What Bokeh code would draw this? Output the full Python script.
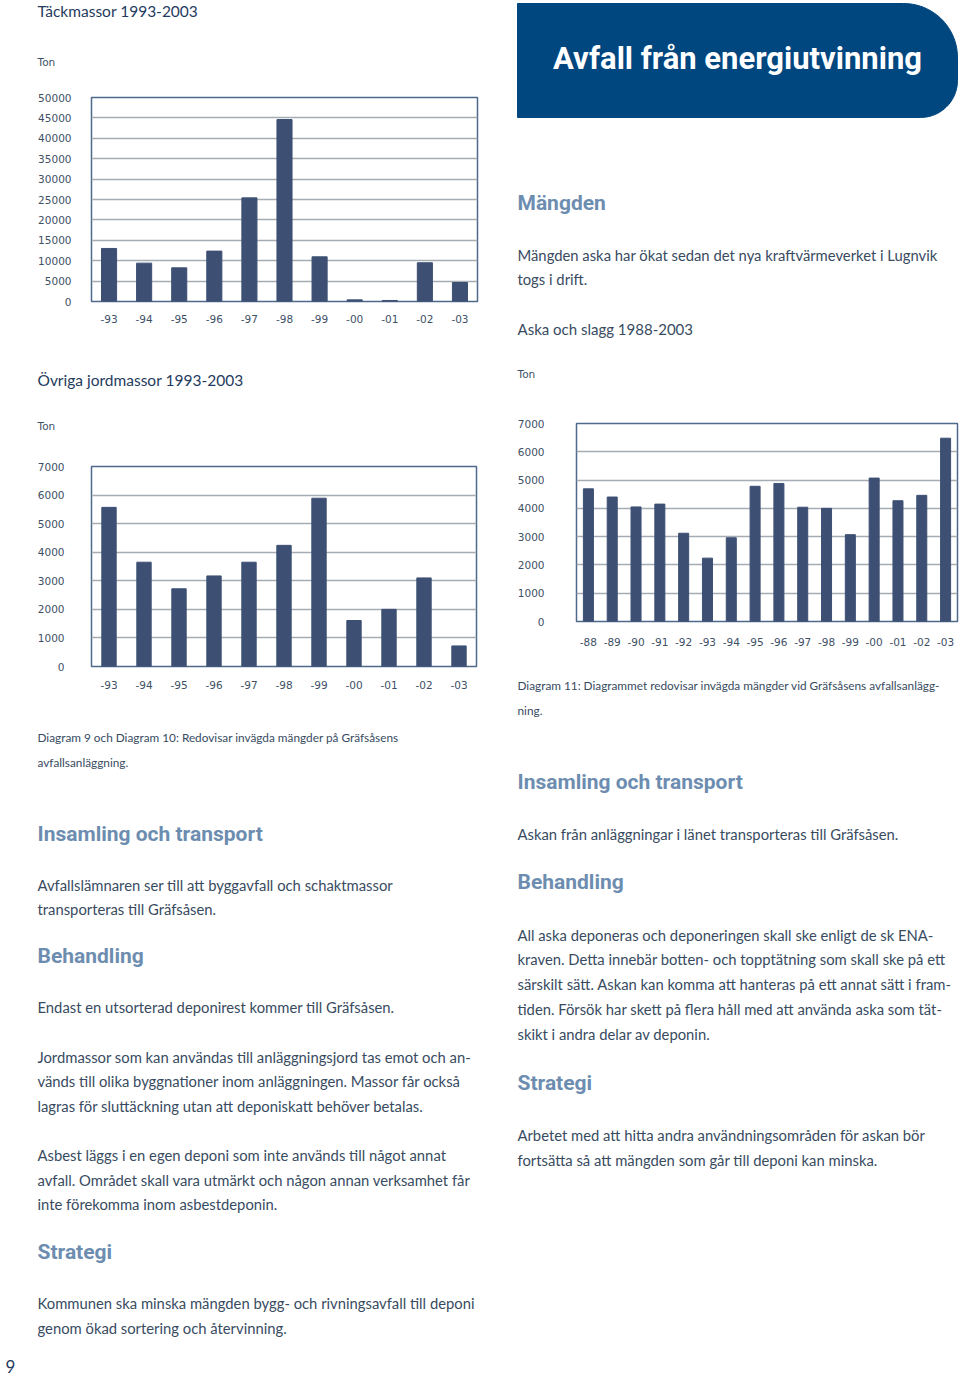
import numpy as np
from bokeh.plotting import figure
from bokeh.layouts import row, column
from bokeh.models import Range1d, FactorRange, FixedTicker
from bokeh.core.properties import value
from bokeh.embed import file_html
from bokeh.resources import INLINE

# ---------------- data ----------------
years_93_03 = ["-93", "-94", "-95", "-96", "-97", "-98", "-99", "-00", "-01", "-02", "-03"]
tackmassor = [13000, 9400, 8250, 12350, 25400, 44600, 10950, 400, 250, 9500, 4650]
ovriga_jordmassor = [5570, 3650, 2720, 3170, 3650, 4240, 5890, 1610, 2000, 3100, 720]
years_88_03 = ["-88", "-89", "-90", "-91", "-92", "-93", "-94", "-95", "-96", "-97",
               "-98", "-99", "-00", "-01", "-02", "-03"]
aska_slagg = [4690, 4400, 4050, 4150, 3120, 2240, 2960, 4780, 4880, 4040, 4000, 3070,
              5070, 4270, 4460, 6480]
ticks_tack = [0, 5000, 10000, 15000, 20000, 25000, 30000, 35000, 40000, 45000, 50000]
ticks_ovriga = [0, 1000, 2000, 3000, 4000, 5000, 6000, 7000]
ticks_aska = [0, 1000, 2000, 3000, 4000, 5000, 6000, 7000]

# ---------------- colours / styles ----------------
BAR = "#3d5074"
GRID = "#a6acb3"
FRAME = "#4d6a8a"
TICK_TXT = "#3e5066"
TITLE_TXT = "#1f3b5e"
HEAD = "#6d8db0"
BODY = "#384b61"
BANNER = "#00467f"

STYLES = {
    "title": dict(font="Lato", size="15.5px", color=TITLE_TXT, style="normal", align="left"),
    "ton": dict(font="DejaVu Sans", size="10.5px", color=TICK_TXT, style="normal", align="left"),
    "head": dict(font="Roboto", size="21px", color=HEAD, style="bold", align="left"),
    "body": dict(font="Lato", size="14.8px", color=BODY, style="normal", align="left"),
    "cap": dict(font="Lato", size="11.8px", color=BODY, style="normal", align="left"),
    "sub": dict(font="Lato", size="15px", color=BODY, style="normal", align="left"),
    "banner": dict(font="Roboto", size="31px", color="white", style="bold", align="center"),
    "page": dict(font="Lato", size="17px", color=TITLE_TXT, style="normal", align="left"),
}

# page texts: (x, y, text, style) in page pixel coordinates
left_texts = [
    (37, 10, "Täckmassor 1993-2003", "title"),
    (37, 61, "Ton", "ton"),
    (37, 379, "Övriga jordmassor 1993-2003", "title"),
    (37, 425, "Ton", "ton"),
    (37, 737, "Diagram 9 och Diagram 10: Redovisar invägda mängder på Gräfsåsens", "cap"),
    (37, 762, "avfallsanläggning.", "cap"),
    (37, 833, "Insamling och transport", "head"),
    (37, 884, "Avfallslämnaren ser till att byggavfall och schaktmassor", "body"),
    (37, 908, "transporteras till Gräfsåsen.", "body"),
    (37, 955, "Behandling", "head"),
    (37, 1006, "Endast en utsorterad deponirest kommer till Gräfsåsen.", "body"),
    (37, 1056, "Jordmassor som kan användas till anläggningsjord tas emot och an-", "body"),
    (37, 1080, "vänds till olika byggnationer inom anläggningen. Massor får också", "body"),
    (37, 1105, "lagras för sluttäckning utan att deponiskatt behöver betalas.", "body"),
    (37, 1154, "Asbest läggs i en egen deponi som inte används till något annat", "body"),
    (37, 1179, "avfall. Området skall vara utmärkt och någon annan verksamhet får", "body"),
    (37, 1203, "inte förekomma inom asbestdeponin.", "body"),
    (37, 1251, "Strategi", "head"),
    (37, 1302, "Kommunen ska minska mängden bygg- och rivningsavfall till deponi", "body"),
    (37, 1327, "genom ökad sortering och återvinning.", "body"),
    (5, 1366, "9", "page"),
]

right_texts = [
    (737, 58, "Avfall från energiutvinning", "banner"),
    (517, 202, "Mängden", "head"),
    (517, 254, "Mängden aska har ökat sedan det nya kraftvärmeverket i Lugnvik", "body"),
    (517, 278, "togs i drift.", "body"),
    (517, 328, "Aska och slagg 1988-2003", "sub"),
    (517, 373, "Ton", "ton"),
    (517, 685, "Diagram 11: Diagrammet redovisar invägda mängder vid Gräfsåsens avfallsanlägg-", "cap"),
    (517, 710, "ning.", "cap"),
    (517, 781, "Insamling och transport", "head"),
    (517, 833, "Askan från anläggningar i länet transporteras till Gräfsåsen.", "body"),
    (517, 881, "Behandling", "head"),
    (517, 934, "All aska deponeras och deponeringen skall ske enligt de sk ENA-", "body"),
    (517, 958, "kraven. Detta innebär botten- och topptätning som skall ske på ett", "body"),
    (517, 983, "särskilt sätt. Askan kan komma att hanteras på ett annat sätt i fram-", "body"),
    (517, 1008, "tiden. Försök har skett på flera håll med att använda aska som tät-", "body"),
    (517, 1033, "skikt i andra delar av deponin.", "body"),
    (517, 1082, "Strategi", "head"),
    (517, 1134, "Arbetet med att hitta andra användningsområden för askan bör", "body"),
    (517, 1159, "fortsätta så att mängden som går till deponi kan minska.", "body"),
]


def text_fig(w, h, x0, y0, texts, banner=False):
    p = figure(width=w, height=h, x_range=Range1d(0, w), y_range=Range1d(h, 0),
               min_border=0, min_border_left=0, min_border_right=0, min_border_top=0,
               min_border_bottom=0, toolbar_location=None, output_backend="svg",
               x_axis_type=None, y_axis_type=None, frame_align=False)
    p.outline_line_color = None
    p.grid.visible = False
    if banner:
        L, T, B, R, rt, rb = 517, 3, 117, 957, 54, 37
        a1 = np.linspace(-np.pi / 2, 0, 30)
        a2 = np.linspace(0, np.pi / 2, 30)
        xs = [L] + list(R - rt + rt * np.cos(a1)) + list(R - rb + rb * np.cos(a2)) + [L]
        ys = [T] + list(T + rt + rt * np.sin(a1)) + list(B - rb + rb * np.sin(a2)) + [B]
        p.patch([x - x0 for x in xs], [y - y0 for y in ys], fill_color=BANNER, line_color=BANNER)
    for x, y, txt, st in texts:
        if not (y0 <= y < y0 + h):
            continue
        s = STYLES[st]
        p.text(x=[x - x0], y=[y - y0], text=[txt], text_font=value(s["font"]),
               text_font_size=s["size"], text_color=s["color"], text_font_style=s["style"],
               text_align=s["align"], text_baseline="middle")
    return p


def bar_chart(cats, vals, ticks, h, top, bottom, left, right, bar_w, xstand, ystand):
    p = figure(x_range=FactorRange(*cats), y_range=Range1d(0, ticks[-1]), width=480, height=h,
               min_border_left=left, min_border_right=right, min_border_top=top,
               min_border_bottom=bottom, toolbar_location=None, output_backend="svg",
               frame_align=False)
    p.ygrid.ticker = FixedTicker(ticks=ticks)
    p.ygrid.grid_line_color = GRID
    p.ygrid.grid_line_width = 1.3
    p.xgrid.grid_line_color = None
    p.vbar(x=cats, top=vals, width=bar_w, fill_color=BAR, line_color=BAR)
    p.outline_line_color = FRAME
    p.outline_line_width = 1.5
    p.outline_line_alpha = 1.0
    for ax in (p.xaxis, p.yaxis):
        ax.axis_line_color = None
        ax.major_tick_line_color = None
        ax.minor_tick_line_color = None
        ax.major_tick_out = 0
        ax.major_tick_in = 0
        ax.major_label_text_font = "DejaVu Sans"
        ax.major_label_text_font_size = "10.5px"
        ax.major_label_text_color = TICK_TXT
    p.yaxis.ticker = FixedTicker(ticks=ticks)
    p.xaxis.major_label_standoff = xstand
    p.yaxis.major_label_standoff = ystand
    p.background_fill_color = "white"
    return p


# left column: 0-80 text, 80-345 chart, 345-445 text, 445-710 chart, 710-1379 text
L1 = text_fig(480, 80, 0, 0, left_texts)
L2 = bar_chart(years_93_03, tackmassor, ticks_tack, 265, 17, 44, 91, 3, 0.43, 13, 20)
L3 = text_fig(480, 100, 0, 345, left_texts)
L4 = bar_chart(years_93_03, ovriga_jordmassor, ticks_ovriga, 265, 21, 44, 91, 4, 0.41, 14, 27)
L5 = text_fig(480, 669, 0, 710, left_texts)

# right column: 0-400 text, 400-665 chart, 665-1379 text
R1 = text_fig(480, 400, 480, 0, right_texts, banner=True)
R2 = bar_chart(years_88_03, aska_slagg, ticks_aska, 265, 23, 44, 96, 3, 0.42, 16, 32)
R3 = text_fig(480, 714, 480, 665, right_texts)

layout = row(column(L1, L2, L3, L4, L5, spacing=0), column(R1, R2, R3, spacing=0), spacing=0)

open("out.html", "w").write(file_html(layout, INLINE, "Avfall från energiutvinning"))
